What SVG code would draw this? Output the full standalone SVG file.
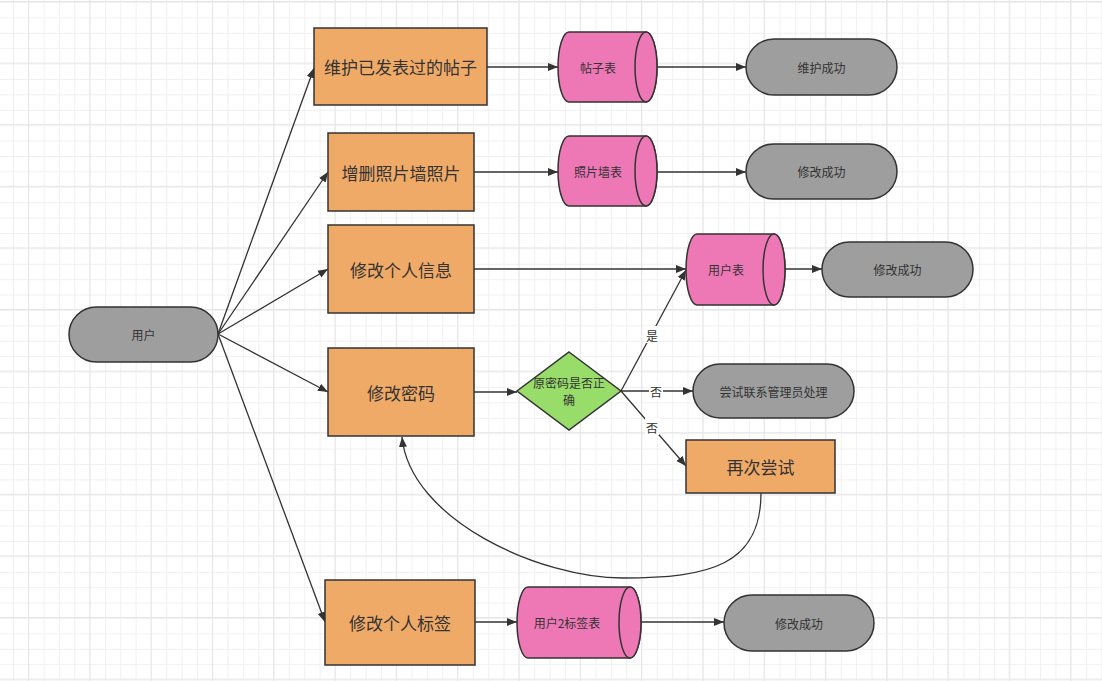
<svg xmlns="http://www.w3.org/2000/svg" width="1102" height="681" viewBox="0 0 1102 681">
<defs>
<pattern id="minor" width="15.33" height="15.4" patternUnits="userSpaceOnUse" x="13" y="2">
<path d="M0 0.5 H15.4 M0.5 0 V15.4" fill="none" stroke="#f0f0f0" stroke-width="1"/>
</pattern>
<pattern id="major" width="61.3" height="61.6" patternUnits="userSpaceOnUse" x="28" y="1">
<path d="M0 0.5 H62 M0.5 0 V62" fill="none" stroke="#e6e6e6" stroke-width="1"/>
</pattern>
<marker id="arr" viewBox="0 0 10 10" refX="10" refY="5" markerWidth="10" markerHeight="10" markerUnits="userSpaceOnUse" orient="auto">
<path d="M0,1 L10,5 L0,9 Z" fill="#333"/>
</marker>
</defs>
<style>
.proc{fill:#f0aa68;stroke:#333;stroke-width:1.5}
.term{fill:#9e9e9e;stroke:#333;stroke-width:1.5}
.cyl{fill:#ee77b6;stroke:#333;stroke-width:1.5}
.dec{fill:#98dc6a;stroke:#333;stroke-width:1.5}
.big{font-family:"Noto Sans CJK SC","Liberation Sans",sans-serif;font-size:17px;fill:#333;text-anchor:middle;dominant-baseline:central}
.sm{font-family:"Noto Sans CJK SC","Liberation Sans",sans-serif;font-size:12px;fill:#333;text-anchor:middle;dominant-baseline:central}
.edge{fill:none;stroke:#333;stroke-width:1.3;marker-end:url(#arr)}
.lbl{font-family:"Noto Sans CJK SC","Liberation Sans",sans-serif;font-size:12px;fill:#333;text-anchor:middle;dominant-baseline:central}
</style>
<rect width="1102" height="681" fill="#fff"/>
<rect width="1102" height="681" fill="url(#minor)"/>
<rect width="1102" height="681" fill="url(#major)"/>

<g id="connectors">
<path class="edge" d="M218,334 L314,68"/>
<path class="edge" d="M218,334 L328,172"/>
<path class="edge" d="M218,334 L328,269"/>
<path class="edge" d="M218,334 L328,392"/>
<path class="edge" d="M218,334 L325,622"/>
<path class="edge" d="M487,67 L558,67"/>
<path class="edge" d="M657,67 L746,67"/>
<path class="edge" d="M474,172 L558,172"/>
<path class="edge" d="M657,172 L746,172"/>
<path class="edge" d="M474,269 L686,269"/>
<path class="edge" d="M785,269 L822,269"/>
<path class="edge" d="M474,392 L517,392"/>
<path class="edge" d="M621,391 L686,270"/>
<path class="edge" d="M621,391 L693,391"/>
<path class="edge" d="M621,391 L686,466"/>
<path class="edge" d="M475,622 L517,622"/>
<path class="edge" d="M641,622 L724,622"/>
<path class="edge" d="M761,493 C761,565 710,578 623,578 C540,578 410,520 402,437"/>
<rect x="645" y="326" width="14" height="17" fill="#fff"/>
<text class="lbl" x="652" y="335">是</text>
<rect x="649" y="382" width="14" height="17" fill="#fff"/>
<text class="lbl" x="656" y="391">否</text>
<rect x="645" y="418" width="14" height="17" fill="#fff"/>
<text class="lbl" x="652" y="427">否</text>
</g>

<g id="user"><rect class="term" x="69" y="307" width="149" height="55" rx="27.5"/><text class="sm" x="143.5" y="334.5">用户</text></g>

<g id="p1"><rect class="proc" x="314" y="28" width="173" height="77"/><text class="big" x="400.5" y="66.5">维护已发表过的帖子</text></g>
<g id="p2"><rect class="proc" x="328" y="133" width="146" height="78"/><text class="big" x="401" y="172">增删照片墙照片</text></g>
<g id="p3"><rect class="proc" x="328" y="225" width="146" height="88"/><text class="big" x="401" y="269">修改个人信息</text></g>
<g id="p4"><rect class="proc" x="328" y="348" width="146" height="88"/><text class="big" x="401" y="392">修改密码</text></g>
<g id="p5"><rect class="proc" x="325" y="580" width="150" height="85"/><text class="big" x="400" y="622.5">修改个人标签</text></g>
<g id="retry"><rect class="proc" x="686" y="440" width="149" height="53"/><text class="big" x="760.5" y="466.5">再次尝试</text></g>

<g id="db1"><path class="cyl" d="M569,32 L646,32 A11,35 0 0 1 646,102 L569,102 A11,35 0 0 1 569,32 Z"/><ellipse class="cyl" cx="646" cy="67" rx="11" ry="35"/><text class="sm" x="598" y="67">帖子表</text></g>
<g id="db2"><path class="cyl" d="M569,136 L646,136 A11,35 0 0 1 646,206 L569,206 A11,35 0 0 1 569,136 Z"/><ellipse class="cyl" cx="646" cy="171" rx="11" ry="35"/><text class="sm" x="598" y="171">照片墙表</text></g>
<g id="db3"><path class="cyl" d="M697,234 L774,234 A11,35.5 0 0 1 774,305 L697,305 A11,35.5 0 0 1 697,234 Z"/><ellipse class="cyl" cx="774" cy="269.5" rx="11" ry="35.5"/><text class="sm" x="726" y="269.5">用户表</text></g>
<g id="db4"><path class="cyl" d="M528,587 L630,587 A11,35.5 0 0 1 630,658 L528,658 A11,35.5 0 0 1 528,587 Z"/><ellipse class="cyl" cx="630" cy="622.5" rx="11" ry="35.5"/><text class="sm" x="567" y="622.5">用户2标签表</text></g>

<g id="ok1"><rect class="term" x="746" y="39" width="151" height="56" rx="28"/><text class="sm" x="821.5" y="67">维护成功</text></g>
<g id="ok2"><rect class="term" x="746" y="144" width="151" height="55" rx="27.5"/><text class="sm" x="821.5" y="171.5">修改成功</text></g>
<g id="ok3"><rect class="term" x="822" y="242" width="151" height="55" rx="27.5"/><text class="sm" x="897.5" y="269.5">修改成功</text></g>
<g id="admin"><rect class="term" x="693" y="364" width="161" height="54" rx="27"/><text class="sm" x="773.5" y="391">尝试联系管理员处理</text></g>
<g id="ok5"><rect class="term" x="724" y="595" width="150" height="56" rx="28"/><text class="sm" x="799" y="623">修改成功</text></g>

<g id="check"><path class="dec" d="M569,352 L621,391 L569,430 L517,391 Z"/><text class="sm" x="569" y="382">原密码是否正</text><text class="sm" x="569" y="399">确</text></g>
</svg>
